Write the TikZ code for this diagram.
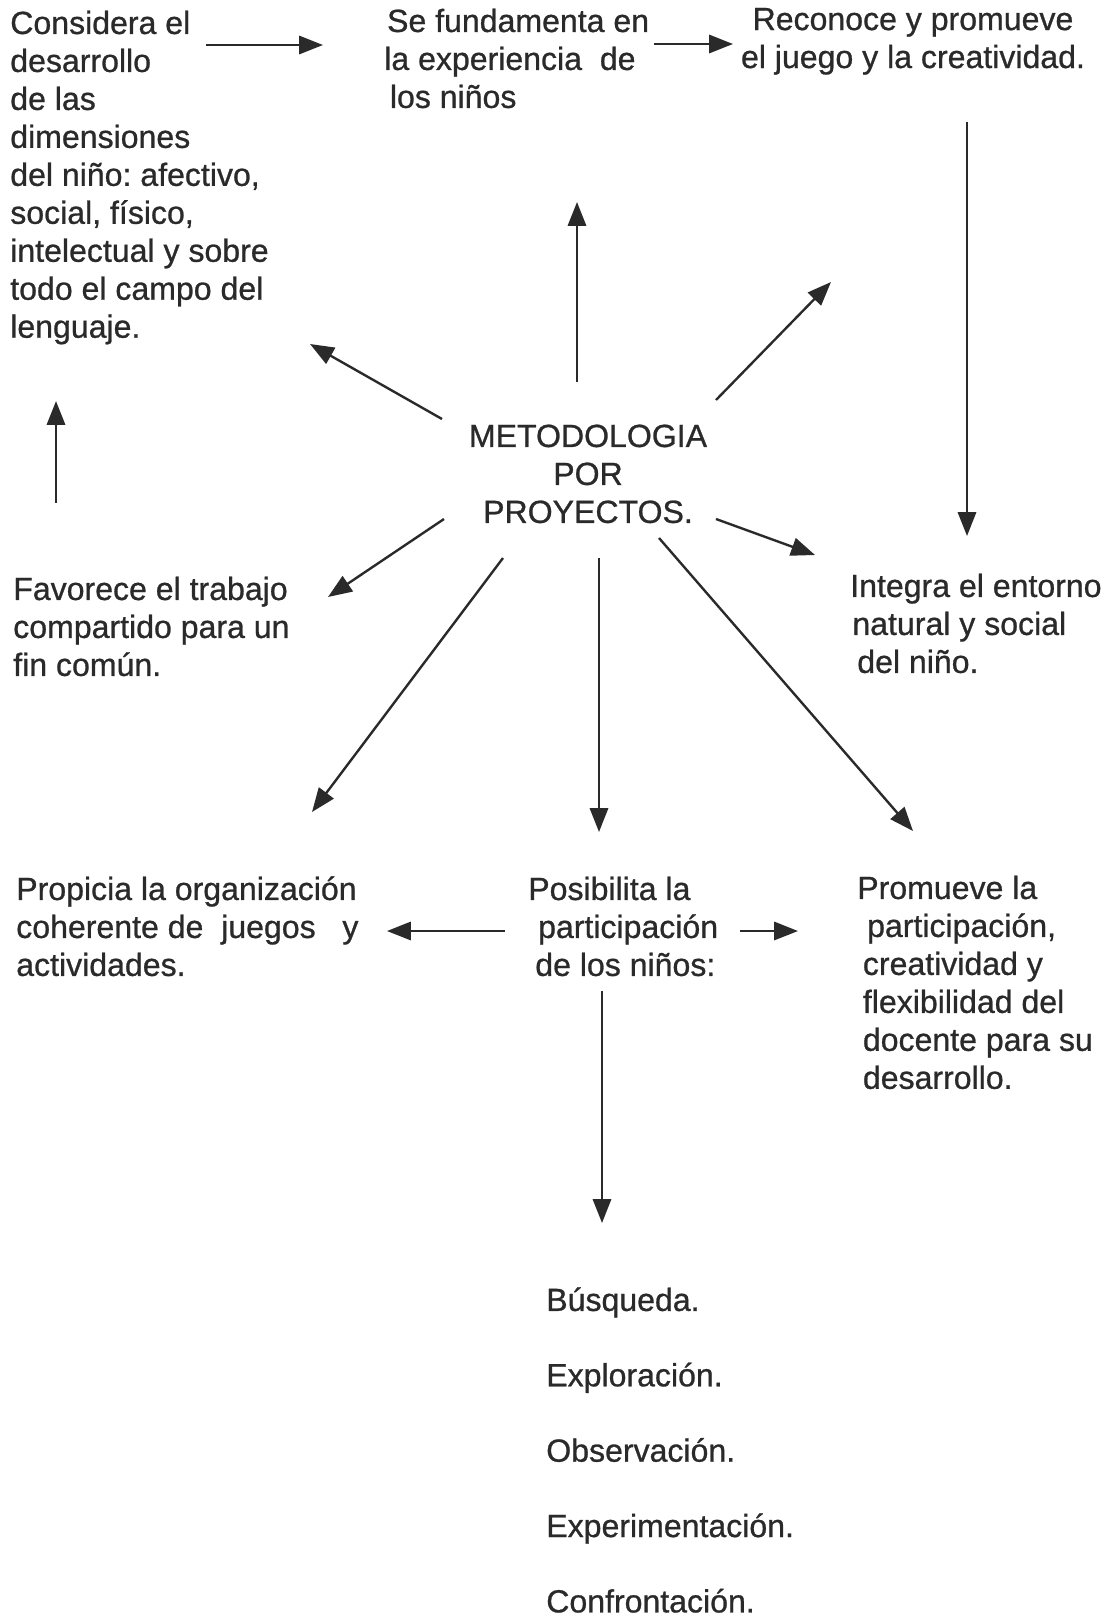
\documentclass[tikz,border=0pt]{standalone}
\usepackage{fontspec}
\setmainfont{Liberation Sans}[UprightFeatures={FakeBold=0.8}]
\usepackage{xcolor}
\usetikzlibrary{arrows.meta}

\definecolor{tinta}{HTML}{2A2A2A}

\tikzset{
  bloque/.style={inner sep=0pt, align=left, anchor=base west, text=tinta,
    font=\fontsize{22.8}{27}\selectfont\frenchspacing},
  centrado/.style={bloque, align=center, anchor=base},
  flecha/.style={draw=tinta, line width=1.7pt, -{Triangle[length=17pt,width=13pt]}},
}

\begin{document}
\begin{tikzpicture}[x=0.025cm, y=-0.025cm]
\useasboundingbox (0,0) rectangle (1113,1619);

% textos (cada nodo se coloca por la linea base de su ultima linea)
\node[bloque] (cons) at (10,337.7) {Considera el\\desarrollo\\de las\\dimensiones\\del niño: afectivo,\\social, físico,\\intelectual y sobre\\todo el campo del\\lenguaje.};
\node[bloque] (fund) at (384,107.9) {\hspace*{2pt}Se fundamenta en\\la experiencia\ \ de\\\hspace*{4pt}los niños};
\node[centrado] (reco) at (913,68) {Reconoce y promueve\\el juego y la creatividad.};
\node[centrado] (meto) at (588,522.9) {METODOLOGIA\\POR\\PROYECTOS.};
\node[bloque] (integ) at (850,672.9) {Integra el entorno\\\hspace*{1.5pt}natural y social\\\hspace*{5pt}del niño.};
\node[bloque] (favo) at (13,675.9) {Favorece el trabajo\\compartido para un\\fin común.};
\node[bloque] (prop) at (16,975.9) {Propicia la organización\\coherente de\ \ juegos\ \ \ y\\actividades.};
\node[bloque] (posi) at (528,975.9) {Posibilita la\\\hspace*{7pt}participación\\\hspace*{5pt}de los niños:};
\node[bloque] (prom) at (857,1088.8) {Promueve la\\\hspace*{7pt}participación,\\\hspace*{4pt}creatividad y\\\hspace*{4pt}flexibilidad del\\\hspace*{4pt}docente para su\\\hspace*{4pt}desarrollo.};
\node[bloque] (lista) at (546,1612.4) {Búsqueda.\\[26.6pt]Exploración.\\[26.6pt]Observación.\\[26.6pt]Experimentación.\\[26.6pt]Confrontación.};

% flechas
\draw[flecha] ([shift={(196,-292.7)}]cons.base west) -- ([shift={(-61,-62.9)}]fund.base west);
\draw[flecha] ([shift={(270,-63.9)}]fund.base west) -- ([shift={(-180,-24)}]reco.base);
\draw[flecha] ([shift={(-11,-140.9)}]meto.base) -- ([shift={(193,94.1)}]fund.base west);
\draw[flecha] ([shift={(128,-122.9)}]meto.base) -- ([shift={(-82,214)}]reco.base);
\draw[flecha] ([shift={(54,54)}]reco.base) -- ([shift={(117,-136.9)}]integ.base west);
\draw[flecha] ([shift={(-146,-103.9)}]meto.base) -- ([shift={(300,6.3)}]cons.base west);
\draw[flecha] ([shift={(43,-172.9)}]favo.base west) -- ([shift={(46,63.3)}]cons.base west);
\draw[flecha] ([shift={(-144,-3.9)}]meto.base) -- ([shift={(315,-78.9)}]favo.base west);
\draw[flecha] ([shift={(128,-3.9)}]meto.base) -- ([shift={(-35,-117.9)}]integ.base west);
\draw[flecha] ([shift={(-85,35.1)}]meto.base) -- ([shift={(296,-163.9)}]prop.base west);
\draw[flecha] ([shift={(11,35.1)}]meto.base) -- ([shift={(71,-143.9)}]posi.base west);
\draw[flecha] ([shift={(71,15.1)}]meto.base) -- ([shift={(56,-257.8)}]prom.base west);
\draw[flecha] ([shift={(-23,-44.9)}]posi.base west) -- ([shift={(371,-44.9)}]prop.base west);
\draw[flecha] ([shift={(212,-44.9)}]posi.base west) -- ([shift={(-59,-157.8)}]prom.base west);
\draw[flecha] ([shift={(74,15.1)}]posi.base west) -- ([shift={(56,-389.4)}]lista.base west);
\end{tikzpicture}
\end{document}
